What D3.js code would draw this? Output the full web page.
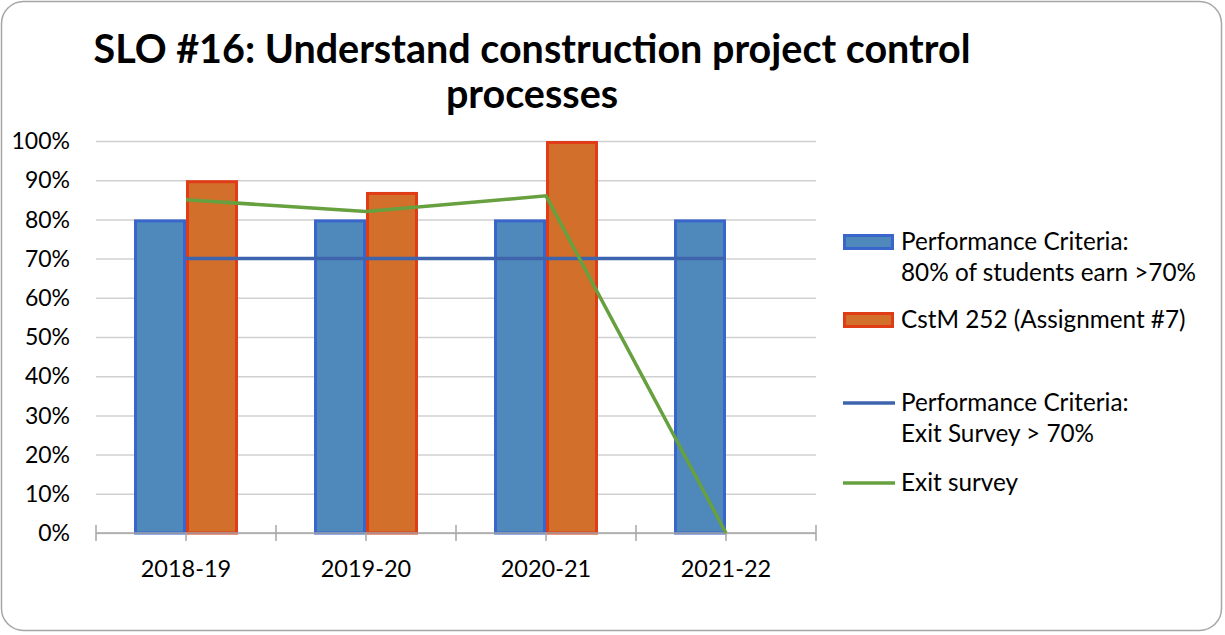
<!DOCTYPE html>
<html>
<head>
<meta charset="utf-8">
<script src="https://cdn.jsdelivr.net/npm/d3@7"></script>
<style>
  html, body { margin: 0; padding: 0; background: #fff; }
  #chart { width: 1225px; height: 635px; }
  text { font-family: Lato, "Open Sans", sans-serif; fill: #000; }
</style>
</head>
<body>
<div id="chart"></div>
<script>
'use strict';

// data
const years = ["2018-19", "2019-20", "2020-21", "2021-22"];
const criteriaBars = [80, 80, 80, 80];
const cstm252 = [90, 87, 100, null];
const criteriaLine = [70, 70, 70, 70];
const exitSurvey = [85, 82, 86, 0];
const yTicks = [0, 10, 20, 30, 40, 50, 60, 70, 80, 90, 100];
const titleLines = ["SLO #16: Understand construction project control", "processes"];

const W = 1225, H = 635;
const margin = { top: 141, right: 409, bottom: 102, left: 96 };
const width = W - margin.left - margin.right,
    height = H - margin.top - margin.bottom;

const svg = d3.select("#chart").append("svg")
    .attr("width", W)
    .attr("height", H);

// outer frame
svg.append("rect")
    .attr("x", 1.5).attr("y", 1.5)
    .attr("width", W - 5).attr("height", H - 6)
    .attr("rx", 22).attr("ry", 22)
    .attr("fill", "#fff")
    .attr("stroke", "#a6a6a6")
    .attr("stroke-width", 1.5);

// title
svg.append("text")
    .attr("text-anchor", "middle")
    .style("font-weight", "bold")
    .style("font-size", "39.5px")
    .selectAll("tspan")
    .data(titleLines)
    .enter()
    .append("tspan")
    .attr("x", 532)
    .attr("y", (d, i) => 63 + i * 45)
    .text(d => d);

const g = svg.append("g").attr("transform", "translate(" + margin.left + "," + margin.top + ")");

// scales
const xScale = d3.scaleBand().domain(years).range([0, width]);
const yScale = d3.scaleLinear().domain([0, 100]).range([height, 0]);
const barW = 52;

// grid
g.append("g")
    .attr("class", "grid")
    .call(d3.axisLeft(yScale).tickValues(yTicks).tickSize(-width).tickFormat(""))
    .call(s => s.select(".domain").remove())
    .call(s => s.selectAll("line").attr("stroke", "#d0d0d0").attr("stroke-width", 1.5));

// y labels
g.append("g")
    .selectAll("text")
    .data(yTicks)
    .enter()
    .append("text")
    .attr("x", -26)
    .attr("y", d => yScale(d))
    .attr("dy", "0.36em")
    .attr("text-anchor", "end")
    .style("font-size", "23px")
    .text(d => d + "%");

// bars
const groups = g.selectAll(".year")
    .data(years)
    .enter()
    .append("g")
    .attr("class", "year")
    .attr("transform", d => "translate(" + (xScale(d) + xScale.bandwidth() / 2) + ",0)");

groups.append("rect")
    .attr("x", -barW + 1.5)
    .attr("y", (d, i) => yScale(criteriaBars[i]) + 1.5)
    .attr("width", barW - 3)
    .attr("height", (d, i) => height - yScale(criteriaBars[i]) - 1.5)
    .attr("fill", "#4f88bb")
    .attr("stroke", "#3a66cc")
    .attr("stroke-width", 3);

groups.filter((d, i) => cstm252[i] != null)
    .append("rect")
    .attr("x", 1.5)
    .attr("y", d => yScale(cstm252[years.indexOf(d)]) + 1.5)
    .attr("width", barW - 3)
    .attr("height", d => height - yScale(cstm252[years.indexOf(d)]) - 1.5)
    .attr("fill", "#d26f2b")
    .attr("stroke", "#e03c18")
    .attr("stroke-width", 3);

// x axis
const axisY = height;
g.append("line")
    .attr("x1", 0).attr("x2", width)
    .attr("y1", axisY).attr("y2", axisY)
    .attr("stroke", "#a6a6a6").attr("stroke-width", 1.5);

const bounds = years.map(d => xScale(d)).concat([width]);
g.selectAll(".major")
    .data(bounds)
    .enter()
    .append("line")
    .attr("x1", d => d).attr("x2", d => d)
    .attr("y1", axisY - 8).attr("y2", axisY + 8)
    .attr("stroke", "#a6a6a6").attr("stroke-width", 1.5);

g.selectAll(".minor")
    .data(years)
    .enter()
    .append("line")
    .attr("x1", d => xScale(d) + xScale.bandwidth() / 2)
    .attr("x2", d => xScale(d) + xScale.bandwidth() / 2)
    .attr("y1", axisY).attr("y2", axisY + 8)
    .attr("stroke", "#a6a6a6").attr("stroke-width", 1.5);

g.selectAll(".xlabel")
    .data(years)
    .enter()
    .append("text")
    .attr("x", d => xScale(d) + xScale.bandwidth() / 2)
    .attr("y", axisY + 44)
    .attr("text-anchor", "middle")
    .style("font-size", "23.5px")
    .text(d => d);

// lines
const line = d3.line()
    .x(d => xScale(d.year) + xScale.bandwidth() / 2)
    .y(d => yScale(d.v));

g.append("path")
    .datum(years.map((y, i) => ({ year: y, v: criteriaLine[i] })))
    .attr("d", line)
    .attr("fill", "none")
    .attr("stroke", "#3e64ae")
    .attr("stroke-width", 3.5);

g.append("path")
    .datum(years.map((y, i) => ({ year: y, v: exitSurvey[i] })))
    .attr("d", line)
    .attr("fill", "none")
    .attr("stroke", "#67a03f")
    .attr("stroke-width", 3.5);

// legend
const legend = svg.append("g").attr("transform", "translate(843,0)");
const legendItems = [
    { type: "bar", fill: "#4f88bb", stroke: "#3a66cc", y: 242, lines: ["Performance Criteria:", "80% of students earn >70%"] },
    { type: "bar", fill: "#d26f2b", stroke: "#e03c18", y: 320, lines: ["CstM 252 (Assignment #7)"] },
    { type: "line", stroke: "#3e64ae", y: 403, lines: ["Performance Criteria:", "Exit Survey > 70%"] },
    { type: "line", stroke: "#67a03f", y: 483, lines: ["Exit survey"] }
];

legendItems.forEach(item => {
    if (item.type === "bar") {
        legend.append("rect")
            .attr("x", 1.5).attr("y", item.y - 6.5)
            .attr("width", 48).attr("height", 13)
            .attr("fill", item.fill)
            .attr("stroke", item.stroke)
            .attr("stroke-width", 3);
    } else {
        legend.append("line")
            .attr("x1", 0).attr("x2", 52)
            .attr("y1", item.y).attr("y2", item.y)
            .attr("stroke", item.stroke)
            .attr("stroke-width", 3.5);
    }
    legend.append("text")
        .style("font-size", "24.3px")
        .selectAll("tspan")
        .data(item.lines)
        .enter()
        .append("tspan")
        .attr("x", 58)
        .attr("y", (d, i) => item.y + 8 + i * 31)
        .text(d => d);
});
</script>
</body>
</html>
